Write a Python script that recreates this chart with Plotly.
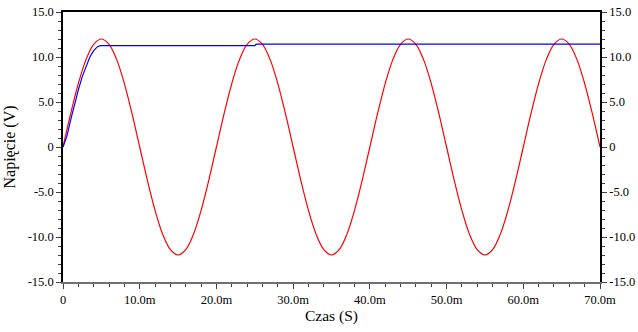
import plotly.graph_objects as go

t_red = [i for i in range(0, 71)]
v_red_period = [0.0, 3.71, 7.05, 9.71, 11.41, 12.0, 11.41, 9.71, 7.05, 3.71,
                0.0, -3.71, -7.05, -9.71, -11.41, -12.0, -11.41, -9.71, -7.05, -3.71]
v_red = (v_red_period * 4)[:71]

# Blue trace: output voltage (ms, V)
t_blue = [0, 0.5, 1.0, 1.5, 2.0, 2.5, 3.0, 3.5, 4.0, 4.5, 4.9, 25.0, 25.2, 70.0]
v_blue = [0.0, 1.18, 3.01, 4.75, 6.35, 7.79, 9.01, 10.0, 10.71, 11.15, 11.27, 11.27, 11.42, 11.42]

x_ticks = [0, 10, 20, 30, 40, 50, 60, 70]
x_labels = ["0", "10.0m", "20.0m", "30.0m", "40.0m", "50.0m", "60.0m", "70.0m"]
y_ticks = [-15, -10, -5, 0, 5, 10, 15]
y_labels = ["-15.0", "-10.0", "-5.0", "0", "5.0", "10.0", "15.0"]

font = "Liberation Serif"

fig = go.Figure()
fig.add_trace(go.Scatter(x=t_red, y=v_red, mode="lines", line=dict(color="#ff0000", width=1.2, shape="spline"),
                         showlegend=False))
fig.add_trace(go.Scatter(x=t_blue, y=v_blue, mode="lines", line=dict(color="#0000ff", width=1.2),
                         showlegend=False))
fig.add_trace(go.Scatter(x=[0], y=[0], yaxis="y2", mode="markers", marker=dict(opacity=0), showlegend=False,
                         hoverinfo="skip"))
fig.add_trace(go.Scatter(x=[0], y=[0], xaxis="x2", mode="markers", marker=dict(opacity=0), showlegend=False,
                         hoverinfo="skip"))

tickfont = dict(family=font, size=12.5, color="black")
fig.update_layout(
    width=638, height=332,
    margin=dict(l=63, r=38, t=12, b=50),
    paper_bgcolor="white", plot_bgcolor="white",
    xaxis=dict(range=[0, 70], tickvals=x_ticks, ticktext=x_labels, showgrid=False, zeroline=False,
               automargin=False,
               showline=True, linecolor="#707070", linewidth=2, ticks="outside", ticklen=5, tickcolor="#404040",
               minor=dict(dtick=2, ticks="outside", ticklen=3, tickcolor="#404040"),
               tickfont=tickfont,
               title=dict(text="Czas (S)", font=dict(family=font, size=15.5, color="black"), standoff=3)),
    xaxis2=dict(range=[0, 70], overlaying="x", side="top", showline=True, linecolor="black", linewidth=1.5,
                showticklabels=False, ticks="", showgrid=False, zeroline=False, automargin=False),
    yaxis=dict(range=[-15, 15], tickvals=y_ticks, ticktext=y_labels, showgrid=False, zeroline=False,
               automargin=False,
               showline=True, linecolor="black", linewidth=1.5, ticks="outside", ticklen=5, tickcolor="#404040",
               minor=dict(dtick=1, ticks="outside", ticklen=3, tickcolor="#404040"),
               tickfont=tickfont,
               title=dict(text="Napięcie (V)", font=dict(family=font, size=16, color="black"), standoff=8)),
    yaxis2=dict(range=[-15, 15], overlaying="y", side="right", tickvals=y_ticks, ticktext=y_labels,
                showgrid=False, zeroline=False, showline=True, linecolor="black", linewidth=1.5,
                automargin=False,
                ticks="outside", ticklen=5, tickcolor="#404040",
                minor=dict(dtick=1, ticks="outside", ticklen=3, tickcolor="#404040"),
                tickfont=tickfont),
)

fig.write_html("out.html", config={"displayModeBar": False},
               post_script="document.body.style.margin='0';document.body.style.overflow='hidden';")
